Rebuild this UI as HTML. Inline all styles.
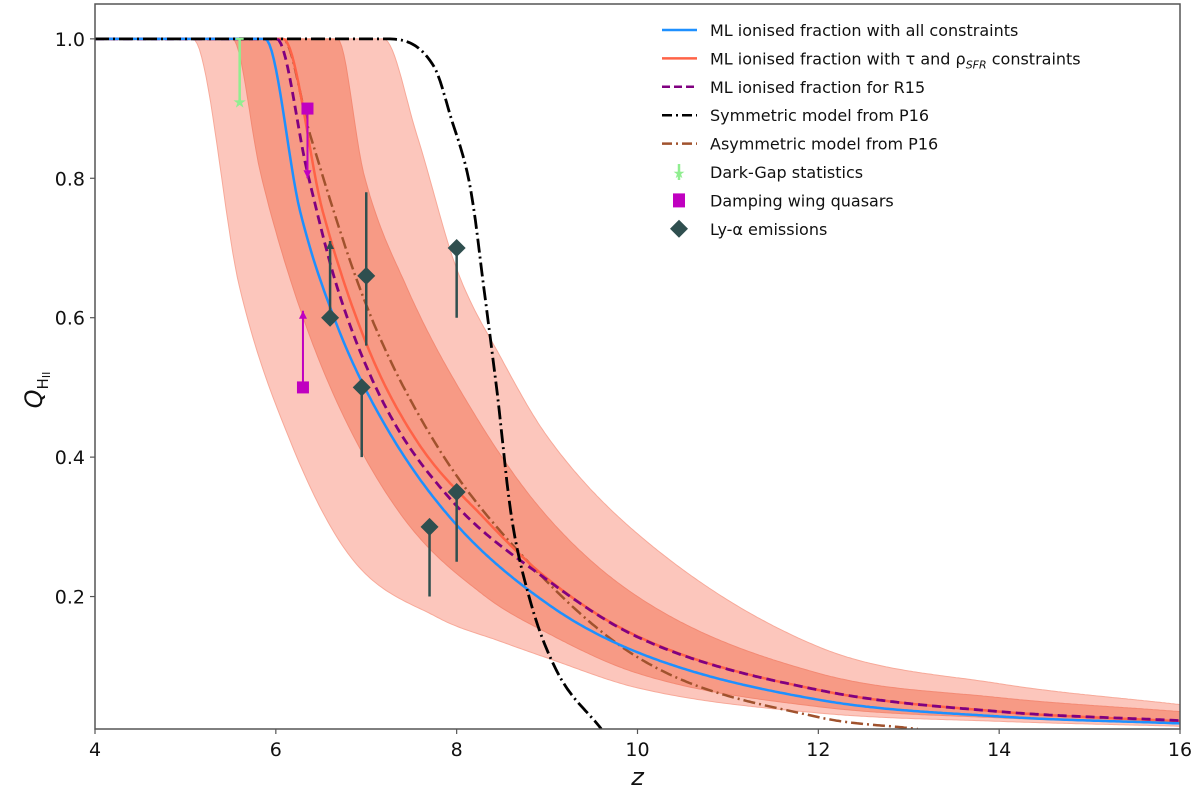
<!DOCTYPE html>
<html><head><meta charset="utf-8"><style>
body{margin:0;background:#fff;}
svg text{font-family:"DejaVu Sans","Liberation Sans",sans-serif;}
</style></head><body>
<svg id="chart" width="1200" height="798" viewBox="0 0 1200 798">
<g id="bands"></g>
<g id="lines"></g>
<g id="pts"></g>
<g id="axes"></g>
<g id="legend"></g>
</svg>
<script>
const outerLowZ=[4,5.08,5.6,6.16,6.82,7.79,8.5,9,10,12,14,16];
const outerLowQ=[1,1,0.643,0.423,0.258,0.17,0.135,0.112,0.069,0.033,0.021,0.014];
const outerHighZ=[4,7.19,7.56,8.0,8.5,9,10,12,14,16];
const outerHighQ=[1,1,0.862,0.67,0.54,0.43,0.29,0.128,0.075,0.045];
const innerLowZ=[4,5.52,5.83,6.19,6.68,7.41,8.3,9,10,12,14,16];
const innerLowQ=[1,1,0.808,0.643,0.478,0.313,0.202,0.148,0.09,0.042,0.026,0.018];
const innerHighZ=[4,6.68,6.97,7.45,8.12,8.94,10,12,14,16];
const innerHighQ=[1,1,0.808,0.643,0.478,0.324,0.2,0.09,0.055,0.035];
const blueZ=[4,5.88,6.27,6.68,7.19,7.93,9,10,12,14,16];
const blueQ=[1,1,0.752,0.588,0.45,0.313,0.19,0.12,0.052,0.028,0.018];
const redZ=[4,6.08,6.52,7.01,7.56,8.3,9,10,12,14,16];
const redQ=[1,1,0.752,0.56,0.423,0.313,0.226,0.143,0.066,0.035,0.021];
const purZ=[4,6.01,6.35,6.68,7.19,7.93,9,10,12,14,16];
const purQ=[1,1,0.808,0.643,0.478,0.34,0.224,0.142,0.066,0.035,0.022];
const asyZ=[4,6.08,6.38,7.01,7.75,8.66,10,12,13.1];
const asyQ=[1,1,0.862,0.615,0.423,0.268,0.113,0.027,0.01];
const symZ=[4,7.19,7.75,7.93,8.16,8.3,8.45,8.6,8.8,9.1,9.6];
const symQ=[1,1,0.96,0.89,0.78,0.643,0.49,0.32,0.2,0.095,0.01];
const gapZ=[5.6], gapQ=[0.91], gapHi=[1.0];
const dwZ=[6.3,6.35], dwQ=[0.5,0.9], dwTo=[0.61,0.8];
const lyZ=[6.6,7.0,6.95,7.7,8.0,8.0], lyQ=[0.6,0.66,0.5,0.3,0.35,0.7];
const lyLo=[0.6,0.56,0.4,0.2,0.25,0.6], lyHi=[0.71,0.78,0.5,0.3,0.35,0.7];
const lyUp=[true,false,false,false,false,false];
const xTicks=[4,6,8,10,12,14,16];
const yTicks=[0.2,0.4,0.6,0.8,1.0];
const legendLabels=["ML ionised fraction with all constraints","ML ionised fraction with τ and ρ","ML ionised fraction for R15","Symmetric model from P16","Asymmetric model from P16","Dark-Gap statistics","Damping wing quasars","Ly-α emissions"];

const X0=95,X1=1180,Y0=729,Y1=4,zmin=4,zmax=16,qmin=0.01,qmax=1.05;
const sx=z=>X0+(z-zmin)/(zmax-zmin)*(X1-X0);
const sy=q=>Y0-(q-qmin)/(qmax-qmin)*(Y0-Y1);
const NS="http://www.w3.org/2000/svg";
function mk(t,a,p){const e=document.createElementNS(NS,t);for(const k in a)e.setAttribute(k,a[k]);p.appendChild(e);return e;}
function dense(xs,ys){
 const n=xs.length,d=[],m=[];
 for(let i=0;i<n-1;i++)d.push((ys[i+1]-ys[i])/(xs[i+1]-xs[i]));
 m[0]=d[0];m[n-1]=d[n-2];
 for(let i=1;i<n-1;i++)m[i]=(d[i-1]*d[i]<=0)?0:(d[i-1]+d[i])/2;
 for(let i=0;i<n-1;i++){if(d[i]===0){m[i]=0;m[i+1]=0;continue;}
  const a=m[i]/d[i],b=m[i+1]/d[i],s=a*a+b*b;if(s>9){const t=3/Math.sqrt(s);m[i]=t*a*d[i];m[i+1]=t*b*d[i];}}
 const out=[];
 for(let i=0;i<n-1;i++){const h=xs[i+1]-xs[i];const steps=Math.max(4,Math.ceil(h*40));
  for(let k=0;k<steps;k++){const t=k/steps,t2=t*t,t3=t2*t;
   const y=(2*t3-3*t2+1)*ys[i]+(t3-2*t2+t)*h*m[i]+(-2*t3+3*t2)*ys[i+1]+(t3-t2)*h*m[i+1];
   out.push([xs[i]+t*h,y]);}}
 out.push([xs[n-1],ys[n-1]]);return out;}
function pts(zs,qs){return dense(zs,qs).map(p=>sx(p[0]).toFixed(1)+","+sy(p[1]).toFixed(1));}
const clip=mk("clipPath",{id:"pc"},document.getElementById("chart"));
mk("rect",{x:X0,y:Y1,width:X1-X0,height:Y0-Y1},clip);
const B=document.getElementById("bands");B.setAttribute("clip-path","url(#pc)");
let ob=mk("polygon",{points:pts(outerLowZ,outerLowQ).concat(pts(outerHighZ,outerHighQ).reverse()).join(" "),fill:"#fcc6bc",stroke:"#f7a999","stroke-width":1},B);


let ib=mk("polygon",{points:pts(innerLowZ,innerLowQ).concat(pts(innerHighZ,innerHighQ).reverse()).join(" "),fill:"#f79a85",stroke:"#f38a74","stroke-width":1},B);


const L=document.getElementById("lines");L.setAttribute("clip-path","url(#pc)");
function line(zs,qs,st,name){const e=mk("polyline",Object.assign({points:pts(zs,qs).join(" "),fill:"none","stroke-linejoin":"round"},st),L);

}
line(asyZ,asyQ,{stroke:"#a0522d","stroke-width":2.5,"stroke-dasharray":"12,4,2,4"},"asymmetric-p16-line");
line(redZ,redQ,{stroke:"#ff6347","stroke-width":2.5},"tau-sfr-line");
line(purZ,purQ,{stroke:"#800080","stroke-width":2.8,"stroke-dasharray":"9,5"},"r15-line");
line(blueZ,blueQ,{stroke:"#1e90ff","stroke-width":2.5},"all-constraints-line");
line(symZ,symQ,{stroke:"#000","stroke-width":2.8,"stroke-dasharray":"14,4,2,4"},"symmetric-p16-line");
const P=document.getElementById("pts");
gapZ.forEach((z,i)=>{
 let g=mk("g",{},P);
 
 
 mk("line",{x1:sx(z),x2:sx(z),y1:sy(gapQ[i]),y2:sy(gapHi[i]),stroke:"#90ee90","stroke-width":2.5},g);
 mk("line",{x1:sx(z)-4,x2:sx(z)+4,y1:sy(gapHi[i]),y2:sy(gapHi[i]),stroke:"#90ee90","stroke-width":2},g);
 mk("text",{x:sx(z),y:sy(gapQ[i])+6,"text-anchor":"middle","font-size":16,fill:"#90ee90"},g).textContent="★";
});
dwZ.forEach((z,i)=>{
 let g=mk("g",{},P);
 
 
 const x=sx(z),y=sy(dwQ[i]),y2=sy(dwTo[i]),d=y2<y?1:-1;
 mk("line",{x1:x,x2:x,y1:y,y2:y2,stroke:"#c000c0","stroke-width":2},g);
 mk("polygon",{points:`${x-4},${y2+d*8} ${x+4},${y2+d*8} ${x},${y2}`,fill:"#c000c0"},g);
 mk("rect",{x:x-6,y:y-6,width:12,height:12,fill:"#c000c0"},g);
});
lyZ.forEach((z,i)=>{
 let g=mk("g",{},P);
 
 
 const x=sx(z),y=sy(lyQ[i]);
 mk("line",{x1:x,x2:x,y1:sy(lyLo[i]),y2:sy(lyHi[i]),stroke:"#2f4f4f","stroke-width":2.5},g);
 if(lyUp[i])mk("polygon",{points:`${x-4},${sy(lyHi[i])+8} ${x+4},${sy(lyHi[i])+8} ${x},${sy(lyHi[i])}`,fill:"#2f4f4f"},g);
 mk("polygon",{points:`${x},${y-9} ${x+9},${y} ${x},${y+9} ${x-9},${y}`,fill:"#2f4f4f"},g);
});
const A=document.getElementById("axes");
mk("rect",{x:X0,y:Y1,width:X1-X0,height:Y0-Y1,fill:"none",stroke:"#555","stroke-width":1.5},A);
xTicks.forEach(t=>{let g=mk("g",{},A);
 
 
 mk("line",{x1:sx(t),x2:sx(t),y1:Y0,y2:Y0+5,stroke:"#555","stroke-width":1.2},g);
 mk("text",{x:sx(t),y:Y0+27,"text-anchor":"middle","font-size":19,fill:"#111"},g).textContent=t;});
yTicks.forEach(t=>{let g=mk("g",{},A);
 
 
 mk("line",{x1:X0-5,x2:X0,y1:sy(t),y2:sy(t),stroke:"#555","stroke-width":1.2},g);
 mk("text",{x:X0-10,y:sy(t)+7,"text-anchor":"end","font-size":19,fill:"#111"},g).textContent=t.toFixed(1);});
let xt=mk("text",{x:(X0+X1)/2,y:785,"text-anchor":"middle","font-size":24,"font-style":"italic",fill:"#111"},A);xt.textContent="z";


let yt=mk("text",{x:0,y:0,"font-size":24,"font-style":"italic",fill:"#111",transform:"translate(42,390) rotate(-90)","text-anchor":"middle"},A);


yt.innerHTML='Q<tspan font-size="15" font-style="normal" dy="6">H</tspan><tspan font-size="11" font-style="normal" dy="2">II</tspan>';
const G=document.getElementById("legend");
const ly0=30,dy=28.4;
const lstyles=[{stroke:"#1e90ff"},{stroke:"#ff6347"},{stroke:"#800080","stroke-dasharray":"8,4"},{stroke:"#000","stroke-dasharray":"10,4,2,4"},{stroke:"#a0522d","stroke-dasharray":"10,4,2,4"}];
legendLabels.forEach((lab,i)=>{
 let g=mk("g",{},G);
 
 
 const y=ly0+i*dy;
 if(i<5)mk("line",Object.assign({x1:662,x2:697,y1:y,y2:y,"stroke-width":2.5},lstyles[i]),g);
 else if(i==5){mk("line",{x1:679,x2:679,y1:y-8,y2:y+8,stroke:"#90ee90","stroke-width":2.5},g);mk("text",{x:679,y:y+6,"text-anchor":"middle","font-size":14,fill:"#90ee90"},g).textContent="★";}
 else if(i==6)mk("rect",{x:673,y:y-7,width:12,height:14,fill:"#c000c0"},g);
 else mk("polygon",{points:`679,${y-9} 688,${y} 679,${y+9} 670,${y}`,fill:"#2f4f4f"},g);
 const t=mk("text",{x:710,y:y+6,"font-size":16,fill:"#111"},g);
 t.textContent=lab;
 if(i==1){const s=document.createElementNS(NS,"tspan");s.setAttribute("font-size","11");s.setAttribute("font-style","italic");s.setAttribute("dy","4");s.textContent="SFR";t.appendChild(s);
  const s2=document.createElementNS(NS,"tspan");s2.setAttribute("dy","-4");s2.textContent=" constraints";t.appendChild(s2);}
});
</script>
</body></html>
